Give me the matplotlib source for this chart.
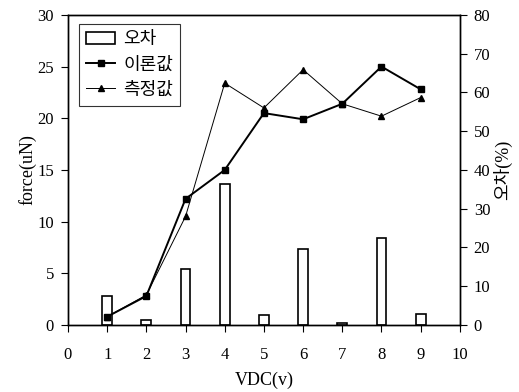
import matplotlib
matplotlib.use('Agg')
from matplotlib import pyplot as plt
import numpy as np

plt.rcParams['font.family'] = ['Liberation Serif', 'Noto Sans CJK KR']

# data
vdc = [1, 2, 3, 4, 5, 6, 7, 8, 9]
theory = [0.8, 2.8, 12.2, 15.0, 20.5, 19.9, 21.4, 25.0, 22.8]    # 이론값 (uN)
measured = [0.8, 2.9, 10.5, 23.4, 21.0, 24.7, 21.4, 20.2, 22.0]  # 측정값 (uN)
error = [7.5, 1.2, 14.4, 36.4, 2.6, 19.6, 0.6, 22.5, 2.8]        # 오차 (%)

fig = plt.figure(figsize=(5.19, 3.92), dpi=100)
ax1 = fig.add_axes([0.131, 0.171, 0.755, 0.791])
ax2 = ax1.twinx()

# bars on the right axis, lines on top
bars = ax2.bar(vdc, error, width=0.25, facecolor='white', edgecolor='black',
               linewidth=1.2, label='오차')
ax1.set_zorder(ax2.get_zorder() + 1)
ax1.patch.set_visible(False)

l1, = ax1.plot(vdc, theory, color='black', linewidth=1.4, marker='s',
               markersize=5, label='이론값')
l2, = ax1.plot(vdc, measured, color='black', linewidth=0.7, marker='^',
               markersize=4, label='측정값')

ax1.set_xlim(0, 10)
ax1.set_ylim(0, 30)
ax2.set_ylim(0, 80)
ax1.set_xticks(np.arange(0, 11, 1))
ax1.set_yticks(np.arange(0, 31, 5))
ax2.set_yticks(np.arange(0, 81, 10))

for ax in (ax1, ax2):
    ax.tick_params(direction='out', length=5, width=0.8, labelsize=12, colors='black', pad=5)
    for s in ax.spines.values():
        s.set_linewidth(1.0)
ax1.tick_params(axis='x', pad=11)

ax1.set_xlabel('VDC(v)', fontsize=13, labelpad=6)
ax1.set_ylabel('force(uN)', fontsize=13, labelpad=1)
ax2.set_ylabel('오차(%)', fontsize=13, labelpad=2)

leg = ax1.legend([bars, l1, l2], ['오차', '이론값', '측정값'], loc='upper left',
                 bbox_to_anchor=(0.028, 0.97), borderaxespad=0,
                 fontsize=13, frameon=True, fancybox=False, edgecolor='black',
                 handlelength=1.6, handletextpad=0.45, labelspacing=0.45,
                 borderpad=0.4)
leg.get_frame().set_linewidth(0.8)

plt.savefig('out.png', dpi=100)
